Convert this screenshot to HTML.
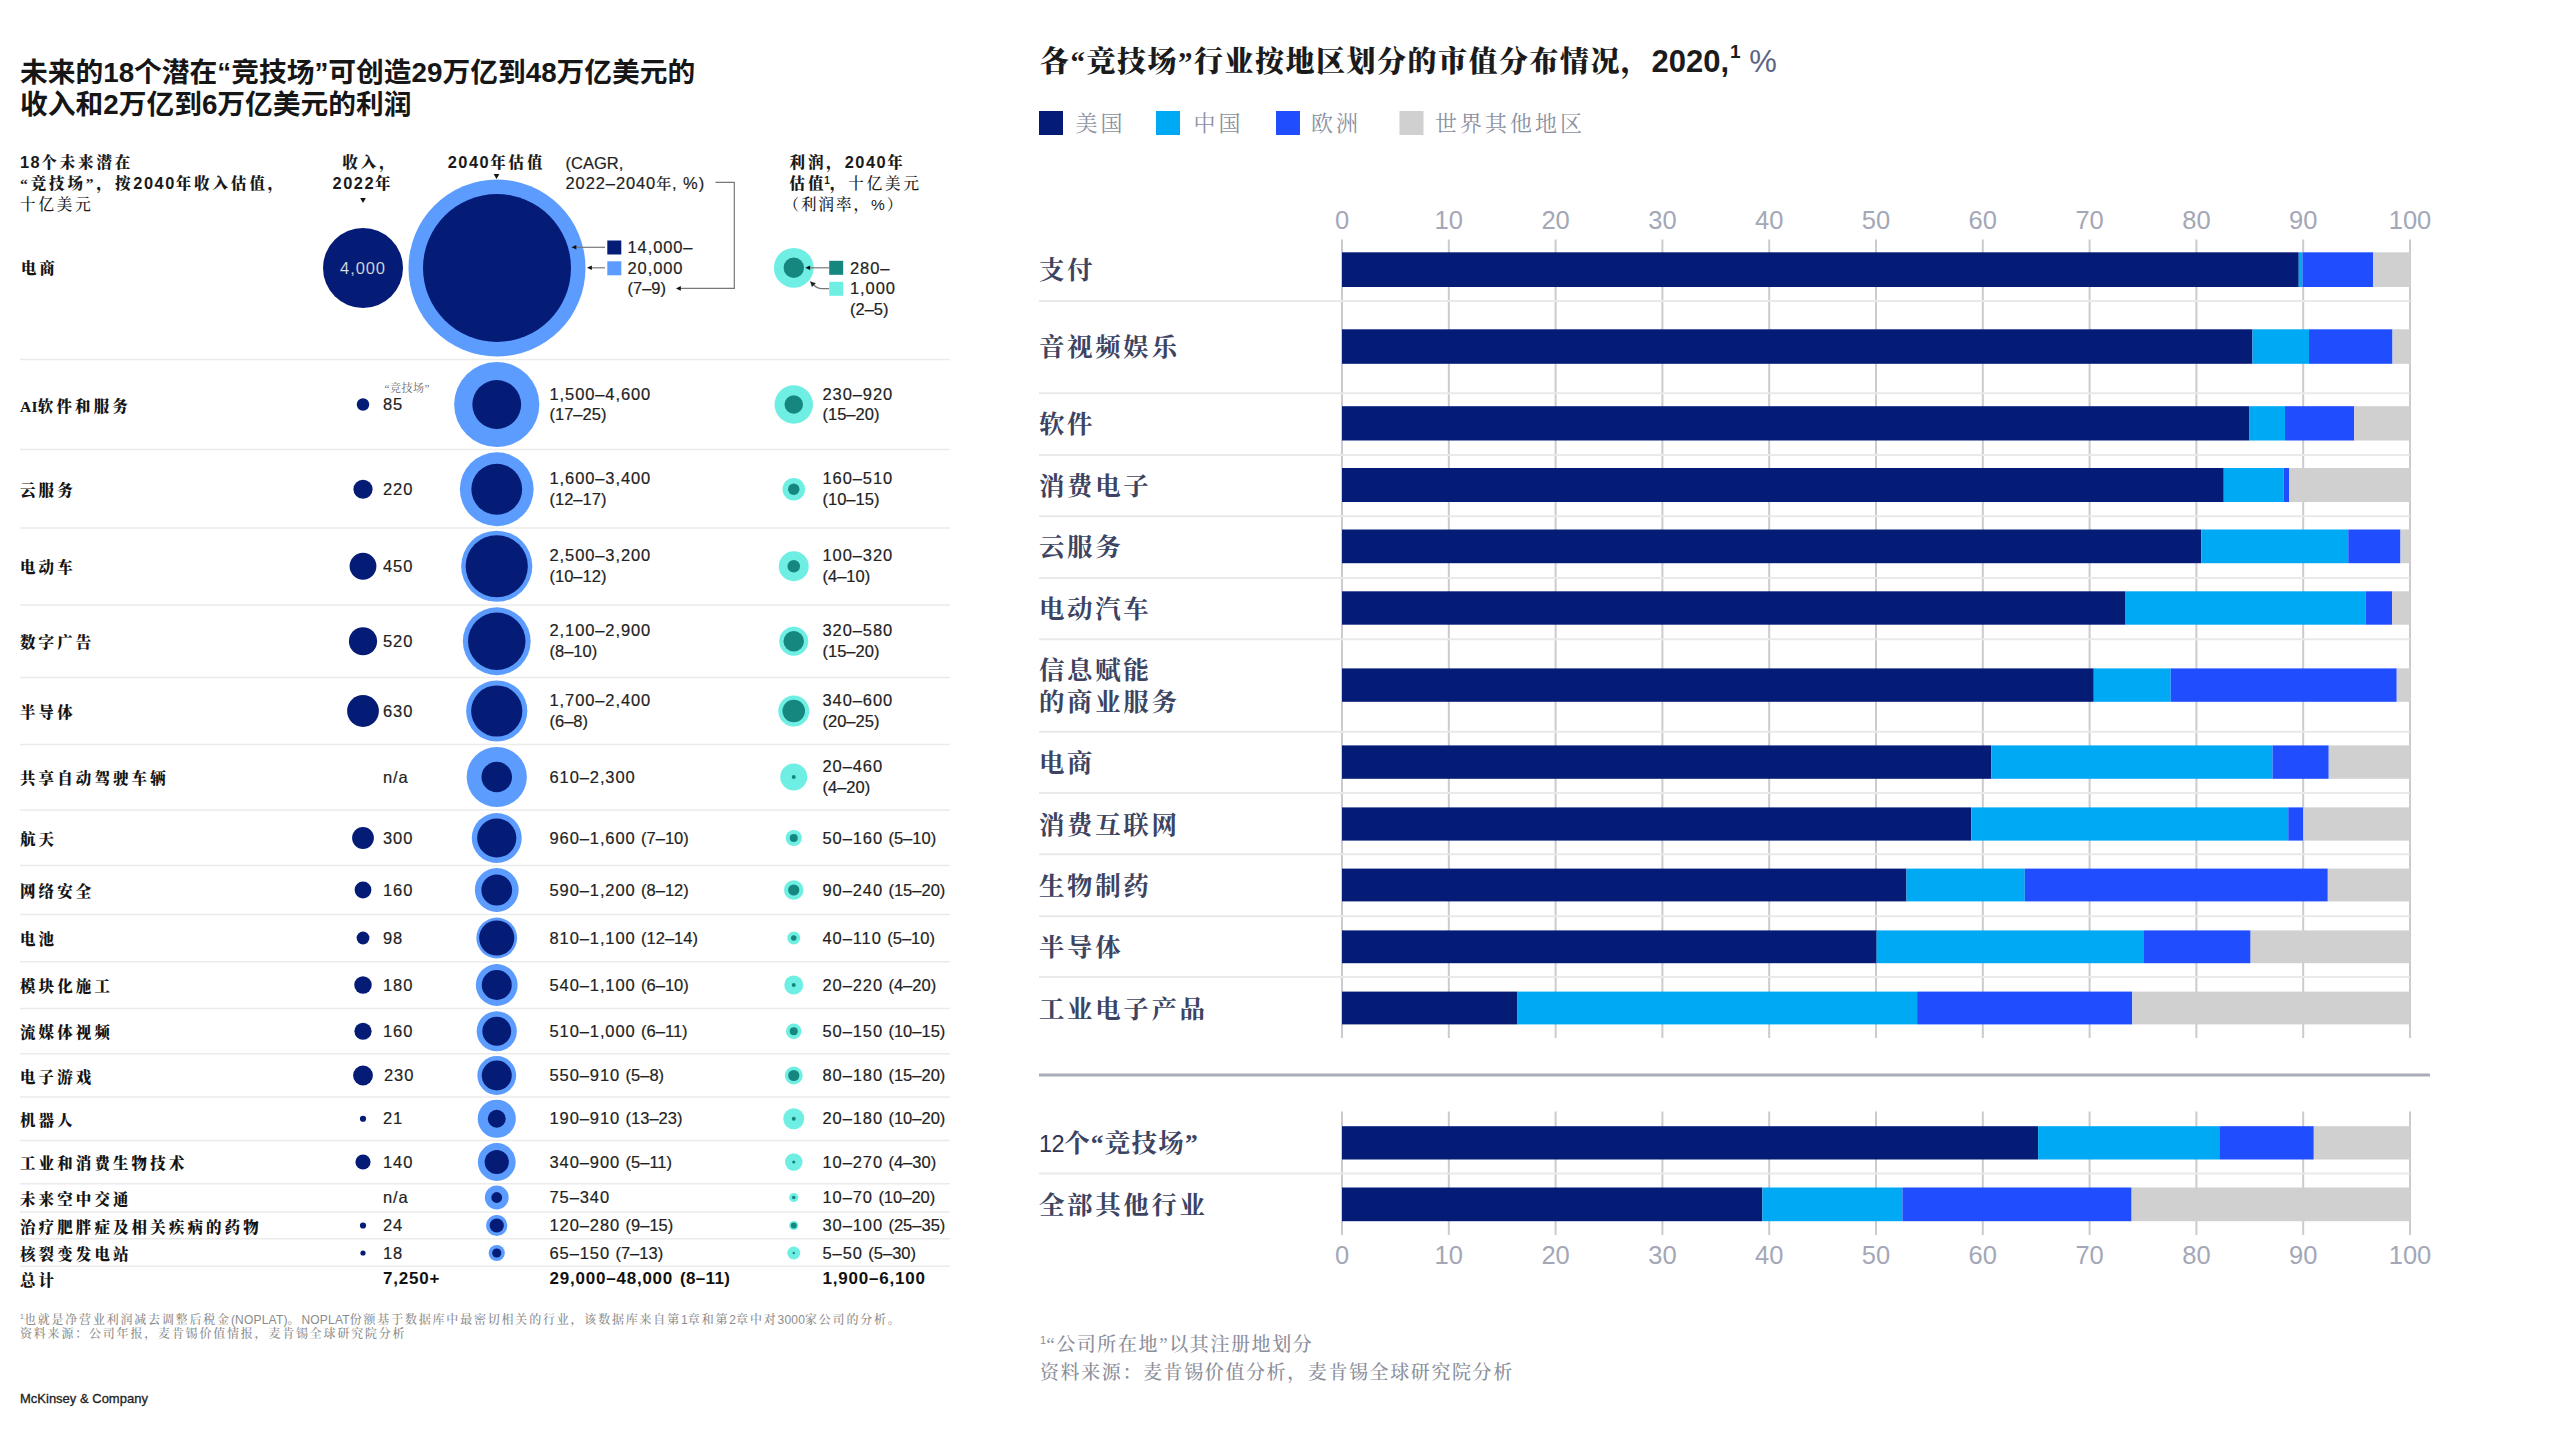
<!DOCTYPE html>
<html lang="zh-CN"><head><meta charset="utf-8"><title>竞技场</title>
<style>
html,body{margin:0;padding:0;background:#fff;}
body{width:2560px;height:1440px;position:relative;overflow:hidden;font-family:"Liberation Sans","Noto Sans CJK SC",sans-serif;color:#1a1a1a;}
svg{position:absolute;left:0;top:0;}
.t{position:absolute;white-space:nowrap;}
.sans,.sansf{font-family:"Liberation Sans","Noto Sans CJK SC",sans-serif;}
.kai{font-family:"Liberation Serif","Noto Serif CJK SC",serif;font-weight:700;}
.song{font-family:"Liberation Serif","Noto Serif CJK SC",serif;font-weight:400;font-size:11px;color:#666;letter-spacing:0.5px;}
.sb{font-family:"Liberation Sans",sans-serif;font-weight:700;letter-spacing:1.5px;font-size:16.4px;}
.ttl{font-family:"Liberation Sans","Noto Sans CJK SC",sans-serif;font-weight:700;font-size:27.75px;color:#161616;}
.hd{font-size:15.5px;letter-spacing:2.9px;color:#1a1a1a;font-weight:900;}
.lab{font-size:15.5px;letter-spacing:3.1px;color:#141414;font-weight:900;}
.reg{font-weight:500 !important;}
.n{font-size:16.5px;color:#222;letter-spacing:0.9px;word-spacing:0px;-webkit-text-stroke:0.2px #222;}
.p{letter-spacing:0;}
.s1{font-size:10px;font-weight:700;top:-0.55em;margin-left:-2px;}
.b .p{letter-spacing:0.3px;}
.b{font-size:17px;font-weight:700;color:#111;letter-spacing:0.78px;word-spacing:1.5px;}
sup{font-size:58%;vertical-align:baseline;position:relative;top:-0.62em;line-height:0;font-family:"Liberation Sans",sans-serif;letter-spacing:0;}
.fn{font-size:12px;font-weight:500;color:#8b8b8b;letter-spacing:1.8px;}
.fn .sansf{letter-spacing:0.2px;font-size:12px;}
.mck{font-size:13px;color:#222;font-weight:400;-webkit-text-stroke:0.3px #222;}
.rt{font-size:29px;letter-spacing:1.5px;color:#1b1b1b;font-weight:900;}
.sb2{font-family:"Liberation Sans",sans-serif;font-weight:700;letter-spacing:0;font-size:31px;}
.sb2 sup{font-size:19px;top:-0.72em;margin-left:1px;}
.pct{font-weight:400;font-size:31px;letter-spacing:0;color:#5c6482;}
.lg{font-size:22px;font-weight:400;letter-spacing:3px;color:#8a8fa0;}
.rl{font-size:25.5px;font-weight:700;letter-spacing:2.6px;color:#3c4462;}
.n12{font-weight:400;letter-spacing:-0.5px;font-size:23.5px;color:#2c3350;}
.ax{font-size:25.5px;color:#a3a7b6;}
.rf{font-size:19px;font-weight:500;letter-spacing:1.6px;color:#8b8e9a;}
</style></head><body>
<svg width="2560" height="1440" viewBox="0 0 2560 1440">
<path d="M360.2 198 L365.8 198 L363 203 Z" fill="#111"/>
<path d="M493.7 174 L499.3 174 L496.5 179 Z" fill="#111"/>
<circle cx="363.00" cy="268.00" r="40.00" fill="#051c77"/>
<circle cx="497.00" cy="268.00" r="88.50" fill="#5c9cff"/>
<circle cx="497.00" cy="268.00" r="74.00" fill="#051c77"/>
<rect x="607.30" y="240.50" width="14.00" height="14.00" fill="#051c77"/>
<rect x="607.30" y="261.30" width="14.00" height="14.00" fill="#5c9cff"/>
<line x1="574.00" y1="247.30" x2="605.00" y2="247.30" stroke="#777" stroke-width="1.2"/>
<path d="M571.5 247.3 L576.3 245 L576.3 249.6 Z" fill="#111"/>
<line x1="589.50" y1="267.80" x2="605.00" y2="267.80" stroke="#777" stroke-width="1.2"/>
<path d="M587 267.8 L591.8 265.5 L591.8 270.1 Z" fill="#111"/>
<path d="M715.5 182.3 L734.3 182.3 L734.3 288.4 L680 288.4" fill="none" stroke="#777" stroke-width="1.2"/>
<path d="M676 288.4 L680.8 286.1 L680.8 290.7 Z" fill="#111"/>
<circle cx="793.80" cy="267.80" r="19.90" fill="#6fefe3"/>
<circle cx="793.80" cy="267.80" r="10.20" fill="#15877f"/>
<rect x="829.20" y="260.80" width="14.00" height="14.00" fill="#15877f"/>
<rect x="829.20" y="281.80" width="14.00" height="14.00" fill="#6fefe3"/>
<line x1="808.00" y1="267.80" x2="829.00" y2="267.80" stroke="#777" stroke-width="1.2"/>
<path d="M805.3 267.8 L810.1 265.5 L810.1 270.1 Z" fill="#111"/>
<path d="M829 288.6 L822 288.6 Q817 288.6 813.5 284.5" fill="none" stroke="#777" stroke-width="1.2"/>
<path d="M810 281.3 L815.8 283.2 L812 287 Z" fill="#222"/>
<rect x="20.00" y="358.75" width="930.00" height="1.50" fill="#ebebeb"/>
<rect x="20.00" y="448.75" width="930.00" height="1.50" fill="#ebebeb"/>
<rect x="20.00" y="527.25" width="930.00" height="1.50" fill="#ebebeb"/>
<rect x="20.00" y="604.25" width="930.00" height="1.50" fill="#ebebeb"/>
<rect x="20.00" y="676.75" width="930.00" height="1.50" fill="#ebebeb"/>
<rect x="20.00" y="743.75" width="930.00" height="1.50" fill="#ebebeb"/>
<rect x="20.00" y="809.25" width="930.00" height="1.50" fill="#ebebeb"/>
<rect x="20.00" y="864.75" width="930.00" height="1.50" fill="#ebebeb"/>
<rect x="20.00" y="913.75" width="930.00" height="1.50" fill="#ebebeb"/>
<rect x="20.00" y="961.00" width="930.00" height="1.50" fill="#ebebeb"/>
<rect x="20.00" y="1007.75" width="930.00" height="1.50" fill="#ebebeb"/>
<rect x="20.00" y="1053.00" width="930.00" height="1.50" fill="#ebebeb"/>
<rect x="20.00" y="1096.25" width="930.00" height="1.50" fill="#ebebeb"/>
<rect x="20.00" y="1139.75" width="930.00" height="1.50" fill="#ebebeb"/>
<rect x="20.00" y="1183.00" width="930.00" height="1.50" fill="#ebebeb"/>
<rect x="20.00" y="1211.25" width="930.00" height="1.50" fill="#ebebeb"/>
<rect x="20.00" y="1238.00" width="930.00" height="1.50" fill="#ebebeb"/>
<rect x="20.00" y="1265.50" width="930.00" height="1.50" fill="#ebebeb"/>
<circle cx="363.00" cy="404.50" r="6.25" fill="#051c77"/>
<circle cx="496.75" cy="404.50" r="42.60" fill="#5c9cff"/>
<circle cx="496.75" cy="404.50" r="24.40" fill="#051c77"/>
<circle cx="793.75" cy="404.50" r="19.25" fill="#6fefe3"/>
<circle cx="793.75" cy="404.50" r="9.25" fill="#15877f"/>
<circle cx="363.00" cy="489.25" r="9.60" fill="#051c77"/>
<circle cx="496.75" cy="489.25" r="36.90" fill="#5c9cff"/>
<circle cx="496.75" cy="489.25" r="25.40" fill="#051c77"/>
<circle cx="793.75" cy="489.25" r="11.25" fill="#6fefe3"/>
<circle cx="793.75" cy="489.25" r="5.75" fill="#15877f"/>
<circle cx="363.00" cy="566.25" r="13.40" fill="#051c77"/>
<circle cx="496.75" cy="566.25" r="35.60" fill="#5c9cff"/>
<circle cx="496.75" cy="566.25" r="31.10" fill="#051c77"/>
<circle cx="793.75" cy="566.25" r="15.00" fill="#6fefe3"/>
<circle cx="793.75" cy="566.25" r="6.25" fill="#15877f"/>
<circle cx="363.00" cy="641.25" r="14.10" fill="#051c77"/>
<circle cx="496.75" cy="641.25" r="33.90" fill="#5c9cff"/>
<circle cx="496.75" cy="641.25" r="28.75" fill="#051c77"/>
<circle cx="793.75" cy="641.25" r="14.50" fill="#6fefe3"/>
<circle cx="793.75" cy="641.25" r="10.25" fill="#15877f"/>
<circle cx="363.00" cy="711.00" r="15.90" fill="#051c77"/>
<circle cx="496.75" cy="711.00" r="30.60" fill="#5c9cff"/>
<circle cx="496.75" cy="711.00" r="25.60" fill="#051c77"/>
<circle cx="793.75" cy="711.00" r="15.50" fill="#6fefe3"/>
<circle cx="793.75" cy="711.00" r="11.25" fill="#15877f"/>
<circle cx="496.75" cy="777.00" r="30.10" fill="#5c9cff"/>
<circle cx="496.75" cy="777.00" r="15.25" fill="#051c77"/>
<circle cx="793.75" cy="777.00" r="13.50" fill="#6fefe3"/>
<circle cx="793.75" cy="777.00" r="2.00" fill="#15877f"/>
<circle cx="363.00" cy="838.00" r="10.90" fill="#051c77"/>
<circle cx="496.75" cy="838.00" r="25.00" fill="#5c9cff"/>
<circle cx="496.75" cy="838.00" r="19.60" fill="#051c77"/>
<circle cx="793.75" cy="838.00" r="8.10" fill="#6fefe3"/>
<circle cx="793.75" cy="838.00" r="4.00" fill="#15877f"/>
<circle cx="363.00" cy="890.00" r="8.40" fill="#051c77"/>
<circle cx="496.75" cy="890.00" r="21.90" fill="#5c9cff"/>
<circle cx="496.75" cy="890.00" r="15.40" fill="#051c77"/>
<circle cx="793.75" cy="890.00" r="9.75" fill="#6fefe3"/>
<circle cx="793.75" cy="890.00" r="5.60" fill="#15877f"/>
<circle cx="363.00" cy="938.00" r="6.40" fill="#051c77"/>
<circle cx="496.75" cy="938.00" r="20.40" fill="#5c9cff"/>
<circle cx="496.75" cy="938.00" r="17.60" fill="#051c77"/>
<circle cx="793.75" cy="938.00" r="6.50" fill="#6fefe3"/>
<circle cx="793.75" cy="938.00" r="2.75" fill="#15877f"/>
<circle cx="363.00" cy="985.00" r="8.75" fill="#051c77"/>
<circle cx="496.75" cy="985.00" r="20.90" fill="#5c9cff"/>
<circle cx="496.75" cy="985.00" r="15.00" fill="#051c77"/>
<circle cx="793.75" cy="985.00" r="9.50" fill="#6fefe3"/>
<circle cx="793.75" cy="985.00" r="2.00" fill="#15877f"/>
<circle cx="363.00" cy="1031.25" r="8.60" fill="#051c77"/>
<circle cx="496.75" cy="1031.25" r="20.10" fill="#5c9cff"/>
<circle cx="496.75" cy="1031.25" r="14.40" fill="#051c77"/>
<circle cx="793.75" cy="1031.25" r="7.75" fill="#6fefe3"/>
<circle cx="793.75" cy="1031.25" r="4.00" fill="#15877f"/>
<circle cx="363.00" cy="1075.50" r="9.90" fill="#051c77"/>
<circle cx="496.75" cy="1075.50" r="19.40" fill="#5c9cff"/>
<circle cx="496.75" cy="1075.50" r="15.00" fill="#051c77"/>
<circle cx="793.75" cy="1075.50" r="9.00" fill="#6fefe3"/>
<circle cx="793.75" cy="1075.50" r="5.60" fill="#15877f"/>
<circle cx="363.00" cy="1118.75" r="3.10" fill="#051c77"/>
<circle cx="496.75" cy="1118.75" r="19.10" fill="#5c9cff"/>
<circle cx="496.75" cy="1118.75" r="9.00" fill="#051c77"/>
<circle cx="793.75" cy="1118.75" r="10.50" fill="#6fefe3"/>
<circle cx="793.75" cy="1118.75" r="2.00" fill="#15877f"/>
<circle cx="363.00" cy="1162.00" r="7.60" fill="#051c77"/>
<circle cx="496.75" cy="1162.00" r="18.90" fill="#5c9cff"/>
<circle cx="496.75" cy="1162.00" r="12.10" fill="#051c77"/>
<circle cx="793.75" cy="1162.00" r="8.75" fill="#6fefe3"/>
<circle cx="793.75" cy="1162.00" r="1.60" fill="#15877f"/>
<circle cx="496.75" cy="1197.50" r="11.90" fill="#5c9cff"/>
<circle cx="496.75" cy="1197.50" r="5.40" fill="#051c77"/>
<circle cx="793.75" cy="1197.50" r="4.60" fill="#6fefe3"/>
<circle cx="793.75" cy="1197.50" r="1.80" fill="#15877f"/>
<circle cx="363.00" cy="1225.50" r="3.10" fill="#051c77"/>
<circle cx="496.75" cy="1225.50" r="10.60" fill="#5c9cff"/>
<circle cx="496.75" cy="1225.50" r="7.10" fill="#051c77"/>
<circle cx="793.75" cy="1225.50" r="4.60" fill="#6fefe3"/>
<circle cx="793.75" cy="1225.50" r="3.00" fill="#15877f"/>
<circle cx="363.00" cy="1253.00" r="2.60" fill="#051c77"/>
<circle cx="496.75" cy="1253.00" r="8.10" fill="#5c9cff"/>
<circle cx="496.75" cy="1253.00" r="4.60" fill="#051c77"/>
<circle cx="793.75" cy="1253.00" r="6.50" fill="#6fefe3"/>
<circle cx="793.75" cy="1253.00" r="1.20" fill="#15877f"/>
<rect x="1039.00" y="111.00" width="24.00" height="24.00" fill="#051c77"/>
<rect x="1156.00" y="111.00" width="24.00" height="24.00" fill="#00a9f4"/>
<rect x="1276.00" y="111.00" width="24.00" height="24.00" fill="#204eff"/>
<rect x="1399.50" y="111.00" width="24.00" height="24.00" fill="#d0d0d0"/>
<rect x="1341.00" y="239.50" width="2.00" height="798.50" fill="#cbcbd0"/>
<rect x="1341.00" y="1111.50" width="2.00" height="123.50" fill="#cbcbd0"/>
<rect x="1447.80" y="239.50" width="2.00" height="798.50" fill="#cbcbd0"/>
<rect x="1447.80" y="1111.50" width="2.00" height="123.50" fill="#cbcbd0"/>
<rect x="1554.60" y="239.50" width="2.00" height="798.50" fill="#cbcbd0"/>
<rect x="1554.60" y="1111.50" width="2.00" height="123.50" fill="#cbcbd0"/>
<rect x="1661.40" y="239.50" width="2.00" height="798.50" fill="#cbcbd0"/>
<rect x="1661.40" y="1111.50" width="2.00" height="123.50" fill="#cbcbd0"/>
<rect x="1768.20" y="239.50" width="2.00" height="798.50" fill="#cbcbd0"/>
<rect x="1768.20" y="1111.50" width="2.00" height="123.50" fill="#cbcbd0"/>
<rect x="1875.00" y="239.50" width="2.00" height="798.50" fill="#cbcbd0"/>
<rect x="1875.00" y="1111.50" width="2.00" height="123.50" fill="#cbcbd0"/>
<rect x="1981.80" y="239.50" width="2.00" height="798.50" fill="#cbcbd0"/>
<rect x="1981.80" y="1111.50" width="2.00" height="123.50" fill="#cbcbd0"/>
<rect x="2088.60" y="239.50" width="2.00" height="798.50" fill="#cbcbd0"/>
<rect x="2088.60" y="1111.50" width="2.00" height="123.50" fill="#cbcbd0"/>
<rect x="2195.40" y="239.50" width="2.00" height="798.50" fill="#cbcbd0"/>
<rect x="2195.40" y="1111.50" width="2.00" height="123.50" fill="#cbcbd0"/>
<rect x="2302.20" y="239.50" width="2.00" height="798.50" fill="#cbcbd0"/>
<rect x="2302.20" y="1111.50" width="2.00" height="123.50" fill="#cbcbd0"/>
<rect x="2409.00" y="239.50" width="2.00" height="798.50" fill="#cbcbd0"/>
<rect x="2409.00" y="1111.50" width="2.00" height="123.50" fill="#cbcbd0"/>
<rect x="1039.00" y="300.00" width="1371.00" height="2.00" fill="#e9e9eb"/>
<rect x="1039.00" y="392.25" width="1371.00" height="2.00" fill="#e9e9eb"/>
<rect x="1039.00" y="454.00" width="1371.00" height="2.00" fill="#e9e9eb"/>
<rect x="1039.00" y="515.25" width="1371.00" height="2.00" fill="#e9e9eb"/>
<rect x="1039.00" y="577.00" width="1371.00" height="2.00" fill="#e9e9eb"/>
<rect x="1039.00" y="638.25" width="1371.00" height="2.00" fill="#e9e9eb"/>
<rect x="1039.00" y="730.75" width="1371.00" height="2.00" fill="#e9e9eb"/>
<rect x="1039.00" y="792.00" width="1371.00" height="2.00" fill="#e9e9eb"/>
<rect x="1039.00" y="853.25" width="1371.00" height="2.00" fill="#e9e9eb"/>
<rect x="1039.00" y="915.25" width="1371.00" height="2.00" fill="#e9e9eb"/>
<rect x="1039.00" y="976.00" width="1371.00" height="2.00" fill="#e9e9eb"/>
<rect x="1039.00" y="1172.50" width="1371.00" height="2.00" fill="#e9e9eb"/>
<rect x="1039.00" y="1073.50" width="1391.00" height="3.00" fill="#a9adb9"/>
<rect x="1342.00" y="252.30" width="956.75" height="34.70" fill="#051c77"/>
<rect x="2298.75" y="252.30" width="3.75" height="34.70" fill="#00a9f4"/>
<rect x="2302.50" y="252.30" width="70.75" height="34.70" fill="#204eff"/>
<rect x="2373.25" y="252.30" width="36.75" height="34.70" fill="#d0d0d0"/>
<rect x="1342.00" y="329.30" width="910.50" height="34.50" fill="#051c77"/>
<rect x="2252.50" y="329.30" width="56.50" height="34.50" fill="#00a9f4"/>
<rect x="2309.00" y="329.30" width="83.50" height="34.50" fill="#204eff"/>
<rect x="2392.50" y="329.30" width="17.50" height="34.50" fill="#d0d0d0"/>
<rect x="1342.00" y="406.20" width="907.50" height="34.30" fill="#051c77"/>
<rect x="2249.50" y="406.20" width="35.50" height="34.30" fill="#00a9f4"/>
<rect x="2285.00" y="406.20" width="69.25" height="34.30" fill="#204eff"/>
<rect x="2354.25" y="406.20" width="55.75" height="34.30" fill="#d0d0d0"/>
<rect x="1342.00" y="468.00" width="881.75" height="34.00" fill="#051c77"/>
<rect x="2223.75" y="468.00" width="60.00" height="34.00" fill="#00a9f4"/>
<rect x="2283.75" y="468.00" width="5.50" height="34.00" fill="#204eff"/>
<rect x="2289.25" y="468.00" width="120.75" height="34.00" fill="#d0d0d0"/>
<rect x="1342.00" y="529.50" width="859.25" height="33.70" fill="#051c77"/>
<rect x="2201.25" y="529.50" width="147.00" height="33.70" fill="#00a9f4"/>
<rect x="2348.25" y="529.50" width="52.25" height="33.70" fill="#204eff"/>
<rect x="2400.50" y="529.50" width="9.50" height="33.70" fill="#d0d0d0"/>
<rect x="1342.00" y="591.30" width="783.00" height="33.40" fill="#051c77"/>
<rect x="2125.00" y="591.30" width="240.75" height="33.40" fill="#00a9f4"/>
<rect x="2365.75" y="591.30" width="26.25" height="33.40" fill="#204eff"/>
<rect x="2392.00" y="591.30" width="18.00" height="33.40" fill="#d0d0d0"/>
<rect x="1342.00" y="668.40" width="751.75" height="33.40" fill="#051c77"/>
<rect x="2093.75" y="668.40" width="77.00" height="33.40" fill="#00a9f4"/>
<rect x="2170.75" y="668.40" width="226.00" height="33.40" fill="#204eff"/>
<rect x="2396.75" y="668.40" width="13.25" height="33.40" fill="#d0d0d0"/>
<rect x="1342.00" y="745.40" width="649.25" height="33.40" fill="#051c77"/>
<rect x="1991.25" y="745.40" width="281.25" height="33.40" fill="#00a9f4"/>
<rect x="2272.50" y="745.40" width="56.25" height="33.40" fill="#204eff"/>
<rect x="2328.75" y="745.40" width="81.25" height="33.40" fill="#d0d0d0"/>
<rect x="1342.00" y="807.40" width="629.25" height="33.20" fill="#051c77"/>
<rect x="1971.25" y="807.40" width="317.00" height="33.20" fill="#00a9f4"/>
<rect x="2288.25" y="807.40" width="15.00" height="33.20" fill="#204eff"/>
<rect x="2303.25" y="807.40" width="106.75" height="33.20" fill="#d0d0d0"/>
<rect x="1342.00" y="868.60" width="564.50" height="32.80" fill="#051c77"/>
<rect x="1906.50" y="868.60" width="118.25" height="32.80" fill="#00a9f4"/>
<rect x="2024.75" y="868.60" width="303.05" height="32.80" fill="#204eff"/>
<rect x="2327.80" y="868.60" width="82.20" height="32.80" fill="#d0d0d0"/>
<rect x="1342.00" y="930.40" width="534.60" height="32.80" fill="#051c77"/>
<rect x="1876.60" y="930.40" width="267.40" height="32.80" fill="#00a9f4"/>
<rect x="2144.00" y="930.40" width="106.60" height="32.80" fill="#204eff"/>
<rect x="2250.60" y="930.40" width="159.40" height="32.80" fill="#d0d0d0"/>
<rect x="1342.00" y="991.60" width="175.50" height="32.80" fill="#051c77"/>
<rect x="1517.50" y="991.60" width="399.60" height="32.80" fill="#00a9f4"/>
<rect x="1917.10" y="991.60" width="215.20" height="32.80" fill="#204eff"/>
<rect x="2132.30" y="991.60" width="277.70" height="32.80" fill="#d0d0d0"/>
<rect x="1342.00" y="1126.20" width="696.10" height="33.30" fill="#051c77"/>
<rect x="2038.10" y="1126.20" width="181.20" height="33.30" fill="#00a9f4"/>
<rect x="2219.30" y="1126.20" width="94.50" height="33.30" fill="#204eff"/>
<rect x="2313.80" y="1126.20" width="96.20" height="33.30" fill="#d0d0d0"/>
<rect x="1342.00" y="1187.50" width="420.40" height="33.70" fill="#051c77"/>
<rect x="1762.40" y="1187.50" width="140.00" height="33.70" fill="#00a9f4"/>
<rect x="1902.40" y="1187.50" width="229.20" height="33.70" fill="#204eff"/>
<rect x="2131.60" y="1187.50" width="278.40" height="33.70" fill="#d0d0d0"/>
</svg>
<div class="t ttl" style="top:55.50px;line-height:33px;left:20.00px;">未来的18个潜在“竞技场”可创造29万亿到48万亿美元的</div>
<div class="t ttl" style="top:88.00px;line-height:33px;left:20.00px;">收入和2万亿到6万亿美元的利润</div>
<div class="t kai hd" style="top:152.00px;line-height:21px;left:20.00px;"><span class="sb">18</span>个未来潜在</div>
<div class="t kai hd" style="top:173.00px;line-height:21px;left:20.00px;">“竞技场”，按<span class="sb">2040</span>年收入估值，</div>
<div class="t kai hd reg" style="top:193.50px;line-height:21px;left:20.00px;">十亿美元</div>
<div class="t kai hd" style="top:152.00px;line-height:21px;left:70.00px;width:600px;text-align:center;">收入，</div>
<div class="t kai hd" style="top:173.00px;line-height:21px;left:63.00px;width:600px;text-align:center;"><span class="sb">2022</span>年</div>
<div class="t kai hd" style="top:152.00px;line-height:21px;left:196.50px;width:600px;text-align:center;"><span class="sb">2040</span>年估值</div>
<div class="t sans n" style="top:153.00px;line-height:21px;left:565.50px;letter-spacing:0;">(CAGR,</div>
<div class="t sans n" style="top:173.00px;line-height:21px;left:565.50px;">2022–2040<span class="kai reg" style="font-size:15px">年</span>, %)</div>
<div class="t kai hd" style="top:152.00px;line-height:21px;left:789.50px;">利润，<span class="sb">2040</span>年</div>
<div class="t kai hd" style="top:173.00px;line-height:21px;left:789.50px;">估值<sup class="s1">1</sup>，<span class="reg">十亿美元</span></div>
<div class="t kai hd reg" style="top:194.00px;line-height:21px;left:789.50px;margin-left:-6px;letter-spacing:2px;">（利润率，<span class="sansf">%</span>）</div>
<div class="t kai lab" style="top:257.70px;line-height:22px;left:21.00px;">电商</div>
<div class="t sans n" style="top:257.00px;line-height:22px;left:63.00px;width:600px;text-align:center;color:#dfe6ff;">4,000</div>
<div class="t sans n" style="top:236.80px;line-height:21px;left:627.50px;">14,000–</div>
<div class="t sans n" style="top:257.50px;line-height:21px;left:627.50px;">20,000</div>
<div class="t sans n" style="top:278.30px;line-height:21px;left:627.50px;"><span class="p">(7–9)</span></div>
<div class="t sans n" style="top:257.50px;line-height:21px;left:850.00px;">280–</div>
<div class="t sans n" style="top:278.20px;line-height:21px;left:850.00px;">1,000</div>
<div class="t sans n" style="top:299.10px;line-height:21px;left:850.00px;"><span class="p">(2–5)</span></div>
<div class="t kai lab" style="top:395.50px;line-height:22px;left:20.00px;"><span style="letter-spacing:0.3px">AI</span>软件和服务</div>
<div class="t sans n" style="top:394.00px;line-height:21px;left:383.00px;">85</div>
<div class="t sans n" style="top:383.60px;line-height:21px;left:549.50px;">1,500–4,600</div>
<div class="t sans n" style="top:404.40px;line-height:21px;left:549.50px;"><span class="p">(17–25)</span></div>
<div class="t sans n" style="top:383.60px;line-height:21px;left:822.50px;">230–920</div>
<div class="t sans n" style="top:404.40px;line-height:21px;left:822.50px;"><span class="p">(15–20)</span></div>
<div class="t kai lab" style="top:480.25px;line-height:22px;left:20.00px;">云服务</div>
<div class="t sans n" style="top:478.75px;line-height:21px;left:383.00px;">220</div>
<div class="t sans n" style="top:468.35px;line-height:21px;left:549.50px;">1,600–3,400</div>
<div class="t sans n" style="top:489.15px;line-height:21px;left:549.50px;"><span class="p">(12–17)</span></div>
<div class="t sans n" style="top:468.35px;line-height:21px;left:822.50px;">160–510</div>
<div class="t sans n" style="top:489.15px;line-height:21px;left:822.50px;"><span class="p">(10–15)</span></div>
<div class="t kai lab" style="top:557.25px;line-height:22px;left:20.00px;">电动车</div>
<div class="t sans n" style="top:555.75px;line-height:21px;left:383.00px;">450</div>
<div class="t sans n" style="top:545.35px;line-height:21px;left:549.50px;">2,500–3,200</div>
<div class="t sans n" style="top:566.15px;line-height:21px;left:549.50px;"><span class="p">(10–12)</span></div>
<div class="t sans n" style="top:545.35px;line-height:21px;left:822.50px;">100–320</div>
<div class="t sans n" style="top:566.15px;line-height:21px;left:822.50px;"><span class="p">(4–10)</span></div>
<div class="t kai lab" style="top:632.25px;line-height:22px;left:20.00px;">数字广告</div>
<div class="t sans n" style="top:630.75px;line-height:21px;left:383.00px;">520</div>
<div class="t sans n" style="top:620.35px;line-height:21px;left:549.50px;">2,100–2,900</div>
<div class="t sans n" style="top:641.15px;line-height:21px;left:549.50px;"><span class="p">(8–10)</span></div>
<div class="t sans n" style="top:620.35px;line-height:21px;left:822.50px;">320–580</div>
<div class="t sans n" style="top:641.15px;line-height:21px;left:822.50px;"><span class="p">(15–20)</span></div>
<div class="t kai lab" style="top:702.00px;line-height:22px;left:20.00px;">半导体</div>
<div class="t sans n" style="top:700.50px;line-height:21px;left:383.00px;">630</div>
<div class="t sans n" style="top:690.10px;line-height:21px;left:549.50px;">1,700–2,400</div>
<div class="t sans n" style="top:710.90px;line-height:21px;left:549.50px;"><span class="p">(6–8)</span></div>
<div class="t sans n" style="top:690.10px;line-height:21px;left:822.50px;">340–600</div>
<div class="t sans n" style="top:710.90px;line-height:21px;left:822.50px;"><span class="p">(20–25)</span></div>
<div class="t kai lab" style="top:768.00px;line-height:22px;left:20.00px;">共享自动驾驶车辆</div>
<div class="t sans n" style="top:766.50px;line-height:21px;left:383.00px;">n/a</div>
<div class="t sans n" style="top:766.50px;line-height:21px;left:549.50px;">610–2,300</div>
<div class="t sans n" style="top:756.10px;line-height:21px;left:822.50px;">20–460</div>
<div class="t sans n" style="top:776.90px;line-height:21px;left:822.50px;"><span class="p">(4–20)</span></div>
<div class="t kai lab" style="top:829.00px;line-height:22px;left:20.00px;">航天</div>
<div class="t sans n" style="top:827.50px;line-height:21px;left:383.00px;">300</div>
<div class="t sans n" style="top:827.50px;line-height:21px;left:549.50px;">960–1,600 <span class="p">(7–10)</span></div>
<div class="t sans n" style="top:827.50px;line-height:21px;left:822.50px;">50–160 <span class="p">(5–10)</span></div>
<div class="t kai lab" style="top:881.00px;line-height:22px;left:20.00px;">网络安全</div>
<div class="t sans n" style="top:879.50px;line-height:21px;left:383.00px;">160</div>
<div class="t sans n" style="top:879.50px;line-height:21px;left:549.50px;">590–1,200 <span class="p">(8–12)</span></div>
<div class="t sans n" style="top:879.50px;line-height:21px;left:822.50px;">90–240 <span class="p">(15–20)</span></div>
<div class="t kai lab" style="top:929.00px;line-height:22px;left:20.00px;">电池</div>
<div class="t sans n" style="top:927.50px;line-height:21px;left:383.00px;">98</div>
<div class="t sans n" style="top:927.50px;line-height:21px;left:549.50px;">810–1,100 <span class="p">(12–14)</span></div>
<div class="t sans n" style="top:927.50px;line-height:21px;left:822.50px;">40–110 <span class="p">(5–10)</span></div>
<div class="t kai lab" style="top:976.00px;line-height:22px;left:20.00px;">模块化施工</div>
<div class="t sans n" style="top:974.50px;line-height:21px;left:383.00px;">180</div>
<div class="t sans n" style="top:974.50px;line-height:21px;left:549.50px;">540–1,100 <span class="p">(6–10)</span></div>
<div class="t sans n" style="top:974.50px;line-height:21px;left:822.50px;">20–220 <span class="p">(4–20)</span></div>
<div class="t kai lab" style="top:1022.25px;line-height:22px;left:20.00px;">流媒体视频</div>
<div class="t sans n" style="top:1020.75px;line-height:21px;left:383.00px;">160</div>
<div class="t sans n" style="top:1020.75px;line-height:21px;left:549.50px;">510–1,000 <span class="p">(6–11)</span></div>
<div class="t sans n" style="top:1020.75px;line-height:21px;left:822.50px;">50–150 <span class="p">(10–15)</span></div>
<div class="t kai lab" style="top:1066.50px;line-height:22px;left:20.00px;">电子游戏</div>
<div class="t sans n" style="top:1065.00px;line-height:21px;left:384.00px;">230</div>
<div class="t sans n" style="top:1065.00px;line-height:21px;left:549.50px;">550–910 <span class="p">(5–8)</span></div>
<div class="t sans n" style="top:1065.00px;line-height:21px;left:822.50px;">80–180 <span class="p">(15–20)</span></div>
<div class="t kai lab" style="top:1109.75px;line-height:22px;left:20.00px;">机器人</div>
<div class="t sans n" style="top:1108.25px;line-height:21px;left:383.00px;">21</div>
<div class="t sans n" style="top:1108.25px;line-height:21px;left:549.50px;">190–910 <span class="p">(13–23)</span></div>
<div class="t sans n" style="top:1108.25px;line-height:21px;left:822.50px;">20–180 <span class="p">(10–20)</span></div>
<div class="t kai lab" style="top:1153.00px;line-height:22px;left:20.00px;">工业和消费生物技术</div>
<div class="t sans n" style="top:1151.50px;line-height:21px;left:383.00px;">140</div>
<div class="t sans n" style="top:1151.50px;line-height:21px;left:549.50px;">340–900 <span class="p">(5–11)</span></div>
<div class="t sans n" style="top:1151.50px;line-height:21px;left:822.50px;">10–270 <span class="p">(4–30)</span></div>
<div class="t kai lab" style="top:1188.50px;line-height:22px;left:20.00px;">未来空中交通</div>
<div class="t sans n" style="top:1187.00px;line-height:21px;left:383.00px;">n/a</div>
<div class="t sans n" style="top:1187.00px;line-height:21px;left:549.50px;">75–340</div>
<div class="t sans n" style="top:1187.00px;line-height:21px;left:822.50px;">10–70 <span class="p">(10–20)</span></div>
<div class="t kai lab" style="top:1216.50px;line-height:22px;left:20.00px;">治疗肥胖症及相关疾病的药物</div>
<div class="t sans n" style="top:1215.00px;line-height:21px;left:383.00px;">24</div>
<div class="t sans n" style="top:1215.00px;line-height:21px;left:549.50px;">120–280 <span class="p">(9–15)</span></div>
<div class="t sans n" style="top:1215.00px;line-height:21px;left:822.50px;">30–100 <span class="p">(25–35)</span></div>
<div class="t kai lab" style="top:1244.00px;line-height:22px;left:20.00px;">核裂变发电站</div>
<div class="t sans n" style="top:1242.50px;line-height:21px;left:383.00px;">18</div>
<div class="t sans n" style="top:1242.50px;line-height:21px;left:549.50px;">65–150 <span class="p">(7–13)</span></div>
<div class="t sans n" style="top:1242.50px;line-height:21px;left:822.50px;">5–50 <span class="p">(5–30)</span></div>
<div class="t song" style="top:381.00px;line-height:14px;left:384.50px;">“竞技场”</div>
<div class="t kai lab" style="top:1269.50px;line-height:22px;left:20.00px;">总计</div>
<div class="t sans b" style="top:1267.75px;line-height:22px;left:383.00px;">7,250+</div>
<div class="t sans b" style="top:1267.75px;line-height:22px;left:549.50px;">29,000–48,000 <span class="p">(8–11)</span></div>
<div class="t sans b" style="top:1267.75px;line-height:22px;left:822.50px;">1,900–6,100</div>
<div class="t kai fn" style="top:1312.50px;line-height:14px;left:20.00px;"><sup class="s2">1</sup>也就是净营业利润减去调整后税金<span class="sansf">(NOPLAT)</span>。<span class="sansf">NOPLAT</span>份额基于数据库中最密切相关的行业，该数据库来自第<span class="sansf">1</span>章和第<span class="sansf">2</span>章中对<span class="sansf">3000</span>家公司的分析。</div>
<div class="t kai fn" style="top:1326.75px;line-height:14px;left:20.00px;">资料来源：公司年报，麦肯锡价值情报，麦肯锡全球研究院分析</div>
<div class="t sans mck" style="top:1390.50px;line-height:16px;left:20.00px;">McKinsey &amp; Company</div>
<div class="t kai rt" style="top:41.50px;line-height:40px;left:1040.00px;">各“竞技场”行业按地区划分的市值分布情况，<span class="sb2">2020,<sup>1</sup></span><span class="sansf pct"> %</span></div>
<div class="t kai lg" style="top:108.50px;line-height:30px;left:1075.50px;">美国</div>
<div class="t kai lg" style="top:108.50px;line-height:30px;left:1193.50px;">中国</div>
<div class="t kai lg" style="top:108.50px;line-height:30px;left:1311.00px;">欧洲</div>
<div class="t kai lg" style="top:108.50px;line-height:30px;left:1435.00px;">世界其他地区</div>
<div class="t sans ax" style="top:205.00px;line-height:30px;left:1042.00px;width:600px;text-align:center;">0</div>
<div class="t sans ax" style="top:1240.00px;line-height:30px;left:1042.00px;width:600px;text-align:center;">0</div>
<div class="t sans ax" style="top:205.00px;line-height:30px;left:1148.80px;width:600px;text-align:center;">10</div>
<div class="t sans ax" style="top:1240.00px;line-height:30px;left:1148.80px;width:600px;text-align:center;">10</div>
<div class="t sans ax" style="top:205.00px;line-height:30px;left:1255.60px;width:600px;text-align:center;">20</div>
<div class="t sans ax" style="top:1240.00px;line-height:30px;left:1255.60px;width:600px;text-align:center;">20</div>
<div class="t sans ax" style="top:205.00px;line-height:30px;left:1362.40px;width:600px;text-align:center;">30</div>
<div class="t sans ax" style="top:1240.00px;line-height:30px;left:1362.40px;width:600px;text-align:center;">30</div>
<div class="t sans ax" style="top:205.00px;line-height:30px;left:1469.20px;width:600px;text-align:center;">40</div>
<div class="t sans ax" style="top:1240.00px;line-height:30px;left:1469.20px;width:600px;text-align:center;">40</div>
<div class="t sans ax" style="top:205.00px;line-height:30px;left:1576.00px;width:600px;text-align:center;">50</div>
<div class="t sans ax" style="top:1240.00px;line-height:30px;left:1576.00px;width:600px;text-align:center;">50</div>
<div class="t sans ax" style="top:205.00px;line-height:30px;left:1682.80px;width:600px;text-align:center;">60</div>
<div class="t sans ax" style="top:1240.00px;line-height:30px;left:1682.80px;width:600px;text-align:center;">60</div>
<div class="t sans ax" style="top:205.00px;line-height:30px;left:1789.60px;width:600px;text-align:center;">70</div>
<div class="t sans ax" style="top:1240.00px;line-height:30px;left:1789.60px;width:600px;text-align:center;">70</div>
<div class="t sans ax" style="top:205.00px;line-height:30px;left:1896.40px;width:600px;text-align:center;">80</div>
<div class="t sans ax" style="top:1240.00px;line-height:30px;left:1896.40px;width:600px;text-align:center;">80</div>
<div class="t sans ax" style="top:205.00px;line-height:30px;left:2003.20px;width:600px;text-align:center;">90</div>
<div class="t sans ax" style="top:1240.00px;line-height:30px;left:2003.20px;width:600px;text-align:center;">90</div>
<div class="t sans ax" style="top:205.00px;line-height:30px;left:2110.00px;width:600px;text-align:center;">100</div>
<div class="t sans ax" style="top:1240.00px;line-height:30px;left:2110.00px;width:600px;text-align:center;">100</div>
<div class="t kai rl" style="top:254.15px;line-height:34px;left:1039.00px;">支付</div>
<div class="t kai rl" style="top:331.05px;line-height:34px;left:1039.00px;">音视频娱乐</div>
<div class="t kai rl" style="top:407.85px;line-height:34px;left:1039.00px;">软件</div>
<div class="t kai rl" style="top:469.50px;line-height:34px;left:1039.00px;">消费电子</div>
<div class="t kai rl" style="top:530.85px;line-height:34px;left:1039.00px;">云服务</div>
<div class="t kai rl" style="top:592.50px;line-height:34px;left:1039.00px;">电动汽车</div>
<div class="t kai rl" style="top:669.45px;line-height:31.3px;left:1039.00px;top:655.30px;">信息赋能<br>的商业服务</div>
<div class="t kai rl" style="top:746.60px;line-height:34px;left:1039.00px;">电商</div>
<div class="t kai rl" style="top:808.50px;line-height:34px;left:1039.00px;">消费互联网</div>
<div class="t kai rl" style="top:869.50px;line-height:34px;left:1039.00px;">生物制药</div>
<div class="t kai rl" style="top:931.30px;line-height:34px;left:1039.00px;">半导体</div>
<div class="t kai rl" style="top:992.50px;line-height:34px;left:1039.00px;">工业电子产品</div>
<div class="t kai rl" style="top:1127.35px;line-height:34px;left:1039.00px;letter-spacing:1.2px;"><span class="sansf n12">12</span>个“竞技场”</div>
<div class="t kai rl" style="top:1188.85px;line-height:34px;left:1039.00px;">全部其他行业</div>
<div class="t kai rf" style="top:1332.50px;line-height:24px;left:1040.00px;"><sup class="s3">1</sup>“公司所在地”以其注册地划分</div>
<div class="t kai rf" style="top:1360.50px;line-height:24px;left:1040.00px;">资料来源：麦肯锡价值分析，麦肯锡全球研究院分析</div>
</body></html>
